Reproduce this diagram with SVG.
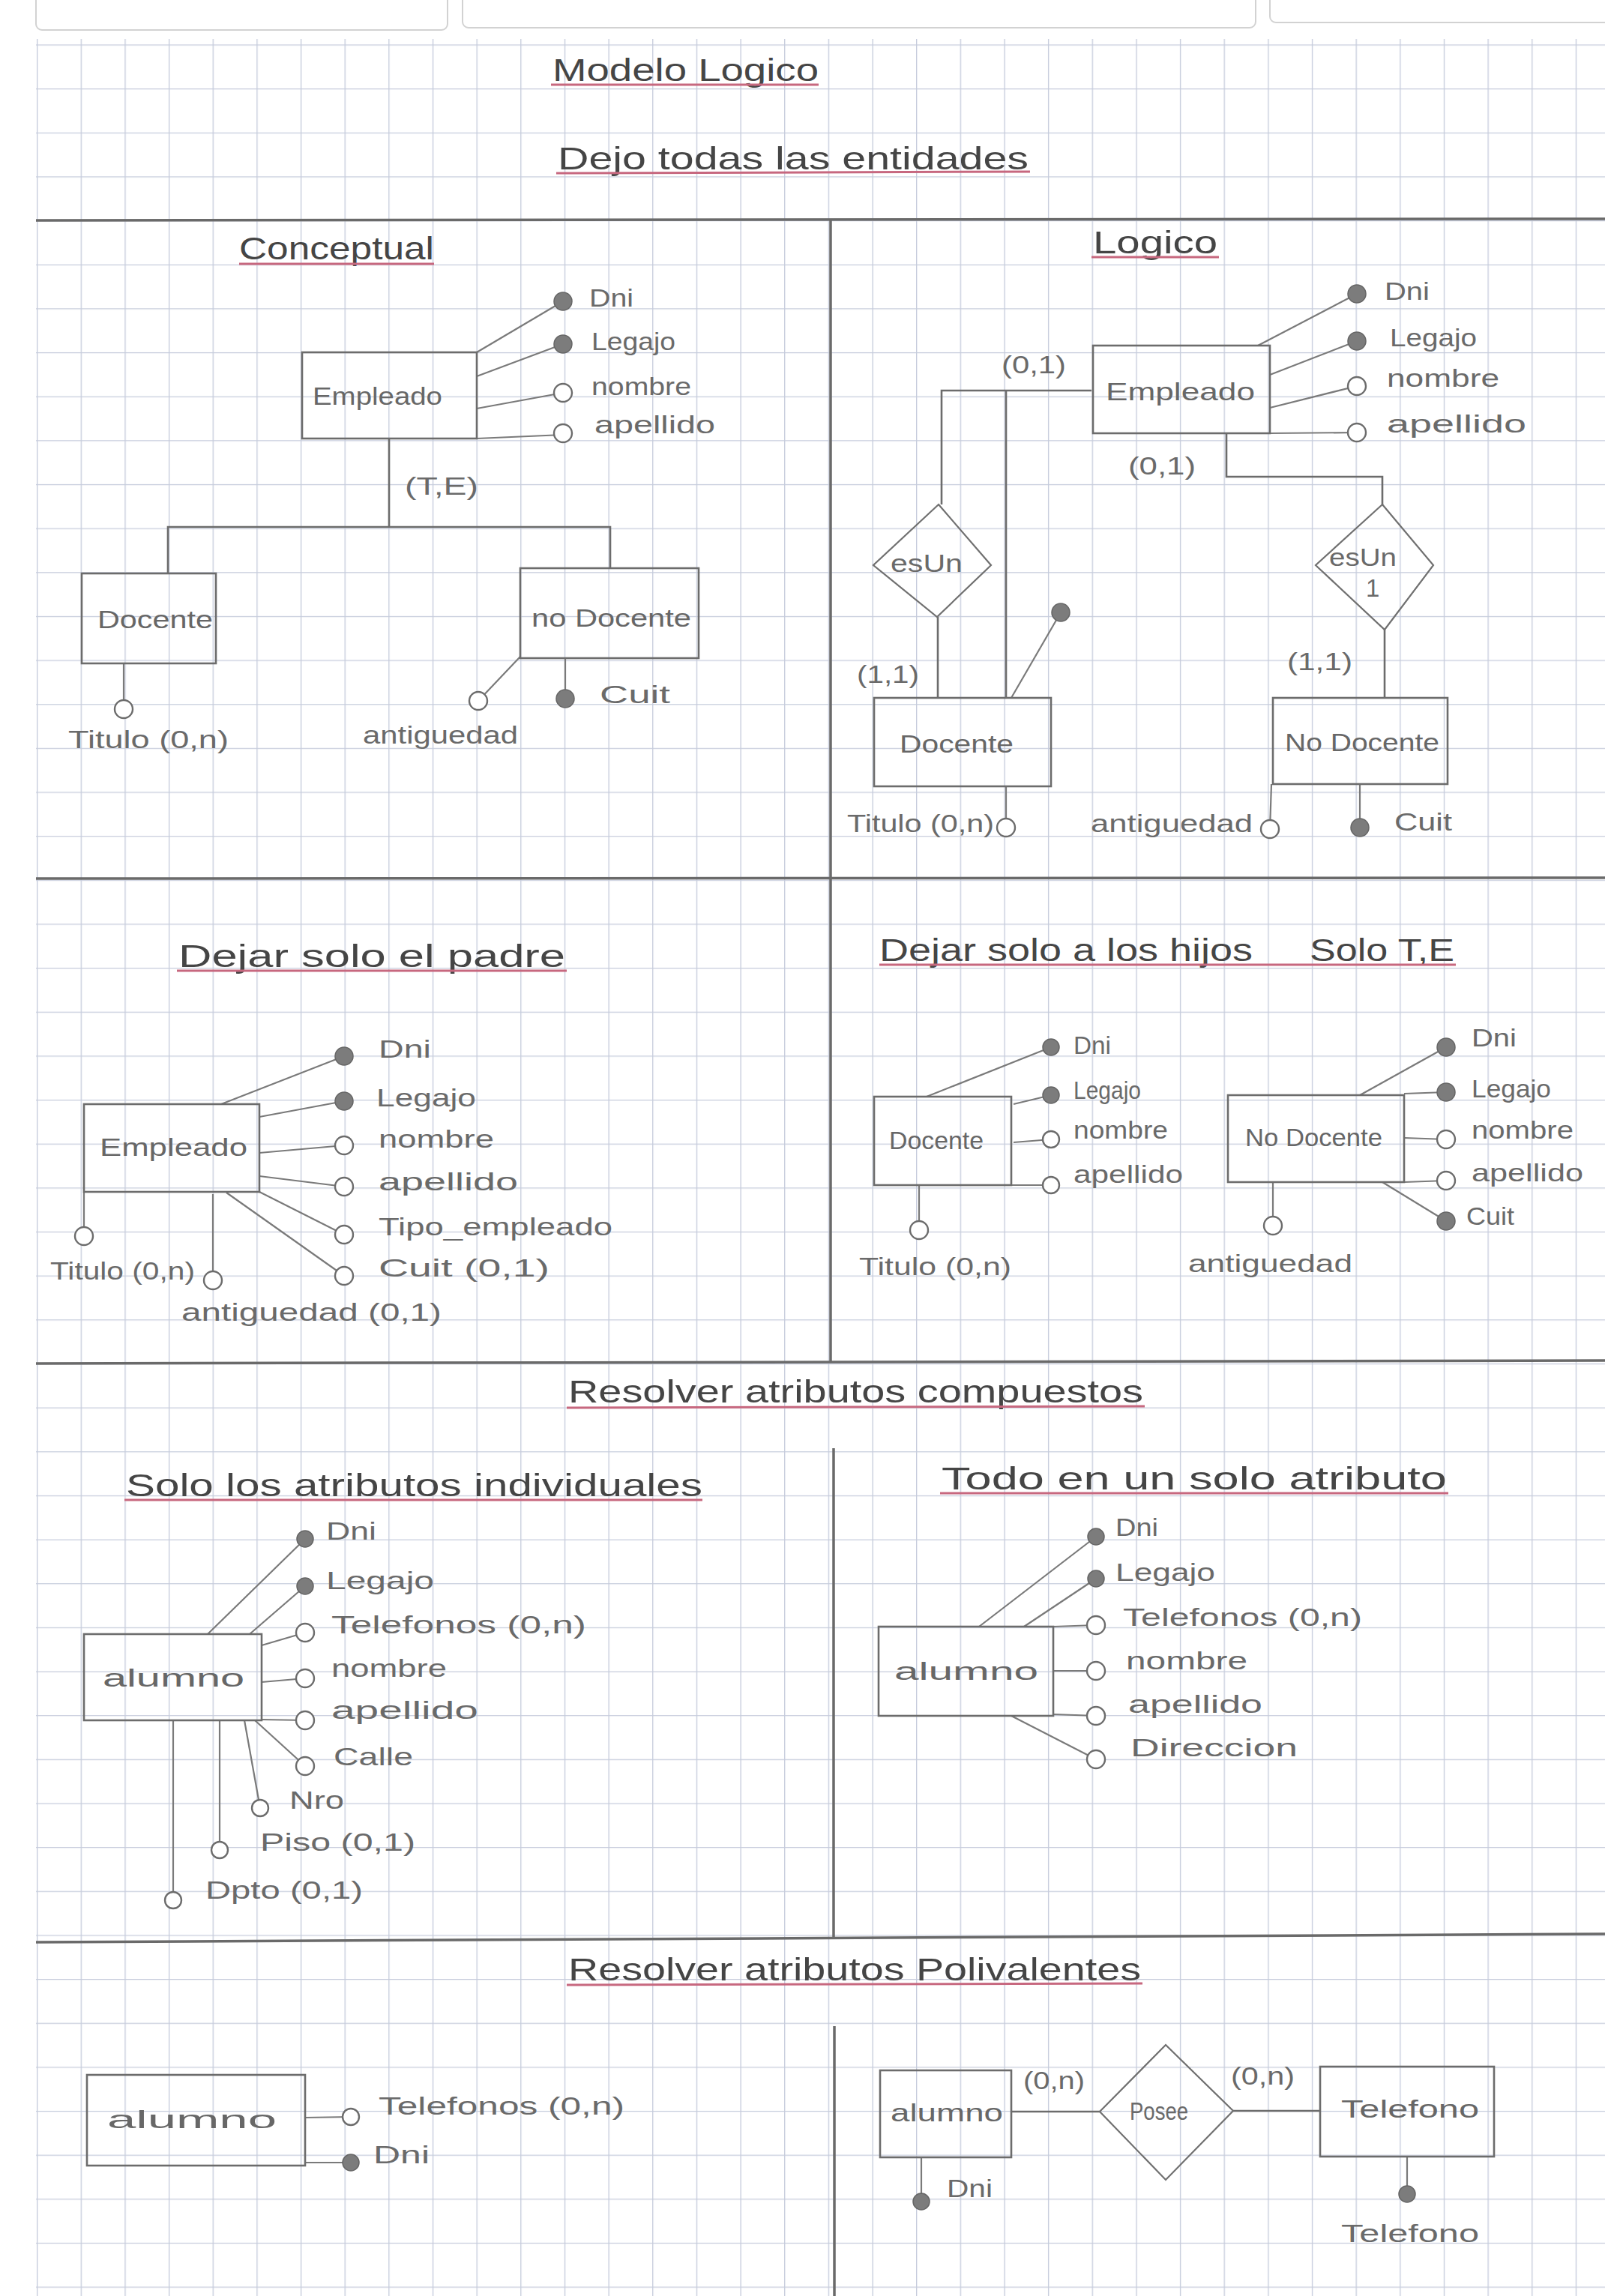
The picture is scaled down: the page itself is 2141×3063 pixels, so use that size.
<svg xmlns="http://www.w3.org/2000/svg" width="2141" height="3063" viewBox="0 0 2141 3063">
<defs>
<pattern id="grid" patternUnits="userSpaceOnUse" x="49" y="0.75" width="58.65" height="58.65">
<path d="M0 0.5 H58.65 M0.5 0 V58.65" fill="none" stroke="#c6ccdc" stroke-width="1.7"/>
</pattern>
</defs>
<style>
.sec{stroke:#6a6a6a;stroke-width:3.5;fill:none}
.hdr{fill:none;stroke:#d2d2d2;stroke-width:2}
.box{fill:none;stroke:#6c6c6c;stroke-width:2.6}
.ln{stroke:#7a7a7a;stroke-width:2.2;fill:none}
.rel{fill:none;stroke:#707070;stroke-width:2.2}
.open{fill:#ffffff;stroke:#6c6c6c;stroke-width:2.4}
.key{fill:#7c7c7c;stroke:#666;stroke-width:1.5}
.t{font-family:"Liberation Sans",Arial,sans-serif;font-size:33px;fill:#6a6a6a}
.e{font-family:"Liberation Sans",Arial,sans-serif;font-size:34px;fill:#676767}
.ti{font-family:"Liberation Sans",Arial,sans-serif;font-size:42px;fill:#454545}
.ul{stroke:#c7687f;stroke-width:3}
</style>
<rect x="0" y="0" width="2141" height="3063" fill="#ffffff"/>
<rect x="48" y="52" width="2093" height="3011" fill="url(#grid)"/>
<g id="page-header">
<rect class="hdr" x="48" y="-20" width="549" height="60" rx="8"/>
<rect class="hdr" x="617" y="-20" width="1058" height="57" rx="8"/>
<rect class="hdr" x="1694" y="-20" width="480" height="50" rx="8"/>
</g>
<g id="sections">
<line class="sec" x1="48" y1="294" x2="2141" y2="292"/>
<line class="sec" x1="1108" y1="294" x2="1108" y2="1817"/>
<line class="sec" x1="48" y1="1172" x2="2141" y2="1171"/>
<line class="sec" x1="48" y1="1819" x2="2141" y2="1815"/>
<line class="sec" x1="1112" y1="1932" x2="1112" y2="2584"/>
<line class="sec" x1="48" y1="2591" x2="2141" y2="2580"/>
<line class="sec" x1="1113" y1="2703" x2="1113" y2="3063"/>
</g>
<g id="titles">
<text class="ti" x="737" y="108" textLength="355" lengthAdjust="spacingAndGlyphs" font-size="46">Modelo Logico</text>
<line class="ul" x1="735" y1="113" x2="1092" y2="113"/>
<text class="ti" x="744" y="226" textLength="628" lengthAdjust="spacingAndGlyphs" font-size="46">Dejo todas las entidades</text>
<line class="ul" x1="742" y1="231" x2="1374" y2="229"/>
<text class="ti" x="319" y="346" textLength="260" lengthAdjust="spacingAndGlyphs">Conceptual</text>
<line class="ul" x1="319" y1="352" x2="579" y2="352"/>
<text class="ti" x="1458" y="338" textLength="166" lengthAdjust="spacingAndGlyphs">Logico</text>
<line class="ul" x1="1456" y1="343" x2="1626" y2="343"/>
<text class="ti" x="238" y="1290" textLength="516" lengthAdjust="spacingAndGlyphs">Dejar solo el padre</text>
<line class="ul" x1="236" y1="1295" x2="756" y2="1295"/>
<text class="ti" x="1173" y="1282" textLength="498" lengthAdjust="spacingAndGlyphs">Dejar solo a los hijos</text>
<text class="ti" x="1747" y="1282" textLength="193" lengthAdjust="spacingAndGlyphs">Solo T,E</text>
<line class="ul" x1="1173" y1="1287" x2="1942" y2="1287"/>
<text class="ti" x="758" y="1871" textLength="767" lengthAdjust="spacingAndGlyphs">Resolver atributos compuestos</text>
<line class="ul" x1="756" y1="1878" x2="1527" y2="1876"/>
<text class="ti" x="168" y="1996" textLength="769" lengthAdjust="spacingAndGlyphs">Solo los atributos individuales</text>
<line class="ul" x1="166" y1="2001" x2="937" y2="2001"/>
<text class="ti" x="1256" y="1987" textLength="674" lengthAdjust="spacingAndGlyphs">Todo en un solo atributo</text>
<line class="ul" x1="1254" y1="1992" x2="1932" y2="1992"/>
<text class="ti" x="758" y="2642" textLength="764" lengthAdjust="spacingAndGlyphs">Resolver atributos Polivalentes</text>
<line class="ul" x1="756" y1="2648" x2="1524" y2="2646"/>
</g>
<g id="connectors">
<line class="ln" x1="636" y1="470" x2="751" y2="402"/>
<line class="ln" x1="636" y1="502" x2="751" y2="459"/>
<line class="ln" x1="636" y1="545" x2="751" y2="524"/>
<line class="ln" x1="636" y1="585" x2="751" y2="580"/>
<polyline class="box" points="519,586 519,703"/>
<polyline class="box" points="224,765 224,703 814,703 814,758"/>
<line class="ln" x1="165" y1="885" x2="165" y2="942"/>
<line class="ln" x1="694" y1="876" x2="638" y2="935"/>
<line class="ln" x1="754" y1="878" x2="754" y2="930"/>
<line class="ln" x1="1678" y1="461" x2="1810" y2="392"/>
<line class="ln" x1="1694" y1="500" x2="1810" y2="455"/>
<line class="ln" x1="1694" y1="544" x2="1810" y2="515"/>
<line class="ln" x1="1694" y1="578" x2="1810" y2="577"/>
<polyline class="box" points="1456,521 1256,521 1256,673"/>
<line class="box" x1="1251" y1="823" x2="1251" y2="931"/>
<line class="box" x1="1342" y1="522" x2="1342" y2="931"/>
<line class="ln" x1="1349" y1="931" x2="1415" y2="817"/>
<line class="ln" x1="1342" y1="1049" x2="1342" y2="1104"/>
<polyline class="box" points="1636,578 1636,636 1844,636 1844,673"/>
<line class="box" x1="1847" y1="840" x2="1847" y2="931"/>
<line class="ln" x1="1696" y1="1046" x2="1694" y2="1106"/>
<line class="ln" x1="1814" y1="1046" x2="1814" y2="1104"/>
<line class="ln" x1="295" y1="1473" x2="459" y2="1409"/>
<line class="ln" x1="346" y1="1490" x2="459" y2="1469"/>
<line class="ln" x1="346" y1="1538" x2="459" y2="1528"/>
<line class="ln" x1="346" y1="1569" x2="459" y2="1583"/>
<line class="ln" x1="346" y1="1590" x2="459" y2="1647"/>
<line class="ln" x1="302" y1="1591" x2="459" y2="1702"/>
<line class="ln" x1="112" y1="1590" x2="112" y2="1649"/>
<line class="ln" x1="284" y1="1593" x2="284" y2="1708"/>
<line class="ln" x1="1236" y1="1463" x2="1402" y2="1397"/>
<line class="ln" x1="1352" y1="1473" x2="1402" y2="1461"/>
<line class="ln" x1="1352" y1="1524" x2="1402" y2="1520"/>
<line class="ln" x1="1349" y1="1581" x2="1402" y2="1581"/>
<line class="ln" x1="1226" y1="1581" x2="1226" y2="1641"/>
<line class="ln" x1="1814" y1="1461" x2="1929" y2="1397"/>
<line class="ln" x1="1873" y1="1459" x2="1929" y2="1457"/>
<line class="ln" x1="1873" y1="1518" x2="1929" y2="1520"/>
<line class="ln" x1="1873" y1="1577" x2="1929" y2="1575"/>
<line class="ln" x1="1844" y1="1577" x2="1929" y2="1629"/>
<line class="ln" x1="1698" y1="1577" x2="1698" y2="1635"/>
<line class="ln" x1="277" y1="2180" x2="407" y2="2053"/>
<line class="ln" x1="333" y1="2180" x2="407" y2="2116"/>
<line class="ln" x1="349" y1="2195" x2="407" y2="2178"/>
<line class="ln" x1="349" y1="2244" x2="407" y2="2239"/>
<line class="ln" x1="349" y1="2294" x2="407" y2="2295"/>
<line class="ln" x1="340" y1="2295" x2="407" y2="2356"/>
<line class="ln" x1="326" y1="2295" x2="347" y2="2412"/>
<line class="ln" x1="293" y1="2295" x2="293" y2="2468"/>
<line class="ln" x1="231" y1="2295" x2="231" y2="2535"/>
<line class="ln" x1="1306" y1="2170" x2="1462" y2="2050"/>
<line class="ln" x1="1366" y1="2170" x2="1462" y2="2106"/>
<line class="ln" x1="1405" y1="2170" x2="1462" y2="2168"/>
<line class="ln" x1="1405" y1="2229" x2="1462" y2="2229"/>
<line class="ln" x1="1405" y1="2287" x2="1462" y2="2289"/>
<line class="ln" x1="1349" y1="2289" x2="1462" y2="2347"/>
<line class="ln" x1="407" y1="2825" x2="468" y2="2824"/>
<line class="ln" x1="407" y1="2885" x2="468" y2="2885"/>
<line class="box" x1="1349" y1="2817" x2="1467" y2="2817"/>
<line class="box" x1="1645" y1="2816" x2="1761" y2="2816"/>
<line class="ln" x1="1229" y1="2878" x2="1229" y2="2937"/>
<line class="ln" x1="1877" y1="2877" x2="1877" y2="2927"/>
</g>
<g id="c-empleado"><rect class="box" x="403" y="470" width="233" height="115"/><text class="e" x="417" y="540" textLength="173" lengthAdjust="spacingAndGlyphs">Empleado</text></g>
<g id="c-dni"><circle class="key" cx="751" cy="402" r="12"/><text class="t" x="786" y="409" textLength="59" lengthAdjust="spacingAndGlyphs">Dni</text></g>
<g id="c-legajo"><circle class="key" cx="751" cy="459" r="12"/><text class="t" x="789" y="467" textLength="112" lengthAdjust="spacingAndGlyphs">Legajo</text></g>
<g id="c-nombre"><circle class="open" cx="751" cy="524" r="12"/><text class="t" x="789" y="527" textLength="133" lengthAdjust="spacingAndGlyphs">nombre</text></g>
<g id="c-apellido"><circle class="open" cx="751" cy="578" r="12"/><text class="t" x="793" y="578" textLength="161" lengthAdjust="spacingAndGlyphs">apellido</text></g>
<g id="c-te"><text class="t" x="540" y="660" textLength="98" lengthAdjust="spacingAndGlyphs">(T,E)</text></g>
<g id="c-docente"><rect class="box" x="109" y="765" width="179" height="120"/><text class="e" x="130" y="838" textLength="154" lengthAdjust="spacingAndGlyphs">Docente</text></g>
<g id="c-nodocente"><rect class="box" x="694" y="758" width="238" height="120"/><text class="e" x="709" y="836" textLength="213" lengthAdjust="spacingAndGlyphs">no Docente</text></g>
<g id="c-titulo"><circle class="open" cx="165" cy="946" r="12"/><text class="t" x="91" y="998" textLength="214" lengthAdjust="spacingAndGlyphs">Titulo (0,n)</text></g>
<g id="c-antiguedad"><circle class="open" cx="638" cy="935" r="12"/><text class="t" x="484" y="992" textLength="207" lengthAdjust="spacingAndGlyphs">antiguedad</text></g>
<g id="c-cuit"><circle class="key" cx="754" cy="932" r="12"/><text class="t" x="800" y="938" textLength="94" lengthAdjust="spacingAndGlyphs">Cuit</text></g>
<g id="l-empleado"><rect class="box" x="1458" y="461" width="236" height="117"/><text class="e" x="1475" y="534" textLength="199" lengthAdjust="spacingAndGlyphs">Empleado</text></g>
<g id="l-dni"><circle class="key" cx="1810" cy="392" r="12"/><text class="t" x="1847" y="400" textLength="60" lengthAdjust="spacingAndGlyphs">Dni</text></g>
<g id="l-legajo"><circle class="key" cx="1810" cy="455" r="12"/><text class="t" x="1854" y="462" textLength="116" lengthAdjust="spacingAndGlyphs">Legajo</text></g>
<g id="l-nombre"><circle class="open" cx="1810" cy="515" r="12"/><text class="t" x="1850" y="516" textLength="150" lengthAdjust="spacingAndGlyphs">nombre</text></g>
<g id="l-apellido"><circle class="open" cx="1810" cy="577" r="12"/><text class="t" x="1850" y="577" textLength="186" lengthAdjust="spacingAndGlyphs">apellido</text></g>
<g id="l-card1"><text class="t" x="1336" y="498" textLength="86" lengthAdjust="spacingAndGlyphs">(0,1)</text></g>
<g id="l-card2"><text class="t" x="1505" y="633" textLength="90" lengthAdjust="spacingAndGlyphs">(0,1)</text></g>
<g id="l-esun"><polygon class="rel" points="1252,673 1322,754 1250,823 1165,754"/><text class="t" x="1188" y="763" textLength="96" lengthAdjust="spacingAndGlyphs">esUn</text></g>
<g id="l-esun1"><polygon class="rel" points="1844,673 1912,754 1847,840 1755,754"/><text class="t" x="1773" y="755" textLength="90" lengthAdjust="spacingAndGlyphs">esUn</text><text class="t" x="1822" y="796">1</text></g>
<g id="l-card3"><text class="t" x="1143" y="911" textLength="83" lengthAdjust="spacingAndGlyphs">(1,1)</text></g>
<g id="l-card4"><text class="t" x="1717" y="894" textLength="87" lengthAdjust="spacingAndGlyphs">(1,1)</text></g>
<g id="l-docente-key"><circle class="key" cx="1415" cy="817" r="12"/></g>
<g id="l-docente"><rect class="box" x="1166" y="931" width="236" height="118"/><text class="e" x="1200" y="1004" textLength="152" lengthAdjust="spacingAndGlyphs">Docente</text></g>
<g id="l-nodocente"><rect class="box" x="1698" y="931" width="233" height="115"/><text class="e" x="1714" y="1002" textLength="206" lengthAdjust="spacingAndGlyphs">No Docente</text></g>
<g id="l-titulo"><circle class="open" cx="1342" cy="1104" r="12"/><text class="t" x="1130" y="1110" textLength="196" lengthAdjust="spacingAndGlyphs">Titulo (0,n)</text></g>
<g id="l-antiguedad"><circle class="open" cx="1694" cy="1106" r="12"/><text class="t" x="1455" y="1110" textLength="216" lengthAdjust="spacingAndGlyphs">antiguedad</text></g>
<g id="l-cuit"><circle class="key" cx="1814" cy="1104" r="12"/><text class="t" x="1860" y="1108" textLength="77" lengthAdjust="spacingAndGlyphs">Cuit</text></g>
<g id="p-empleado"><rect class="box" x="112" y="1473" width="234" height="117"/><text class="e" x="133" y="1542" textLength="197" lengthAdjust="spacingAndGlyphs">Empleado</text></g>
<g id="p-dni"><circle class="key" cx="459" cy="1409" r="12"/><text class="t" x="505" y="1411" textLength="70" lengthAdjust="spacingAndGlyphs">Dni</text></g>
<g id="p-legajo"><circle class="key" cx="459" cy="1469" r="12"/><text class="t" x="502" y="1476" textLength="133" lengthAdjust="spacingAndGlyphs">Legajo</text></g>
<g id="p-nombre"><circle class="open" cx="459" cy="1528" r="12"/><text class="t" x="505" y="1531" textLength="154" lengthAdjust="spacingAndGlyphs">nombre</text></g>
<g id="p-apellido"><circle class="open" cx="459" cy="1583" r="12"/><text class="t" x="505" y="1588" textLength="186" lengthAdjust="spacingAndGlyphs">apellido</text></g>
<g id="p-tipo"><circle class="open" cx="459" cy="1647" r="12"/><text class="t" x="505" y="1648" textLength="312" lengthAdjust="spacingAndGlyphs">Tipo_empleado</text></g>
<g id="p-cuit"><circle class="open" cx="459" cy="1702" r="12"/><text class="t" x="505" y="1703" textLength="228" lengthAdjust="spacingAndGlyphs">Cuit (0,1)</text></g>
<g id="p-titulo"><circle class="open" cx="112" cy="1649" r="12"/><text class="t" x="67" y="1707" textLength="193" lengthAdjust="spacingAndGlyphs">Titulo (0,n)</text></g>
<g id="p-antiguedad"><circle class="open" cx="284" cy="1708" r="12"/><text class="t" x="242" y="1762" textLength="347" lengthAdjust="spacingAndGlyphs">antiguedad (0,1)</text></g>
<g id="h-docente"><rect class="box" x="1166" y="1463" width="183" height="118"/><text class="e" x="1186" y="1533" textLength="126" lengthAdjust="spacingAndGlyphs">Docente</text></g>
<g id="h-d-dni"><circle class="key" cx="1402" cy="1397" r="11"/><text class="t" x="1432" y="1406" textLength="50" lengthAdjust="spacingAndGlyphs">Dni</text></g>
<g id="h-d-legajo"><circle class="key" cx="1402" cy="1461" r="11"/><text class="t" x="1432" y="1466" textLength="90" lengthAdjust="spacingAndGlyphs">Legajo</text></g>
<g id="h-d-nombre"><circle class="open" cx="1402" cy="1520" r="11"/><text class="t" x="1432" y="1519" textLength="126" lengthAdjust="spacingAndGlyphs">nombre</text></g>
<g id="h-d-apellido"><circle class="open" cx="1402" cy="1581" r="11"/><text class="t" x="1432" y="1578" textLength="146" lengthAdjust="spacingAndGlyphs">apellido</text></g>
<g id="h-d-titulo"><circle class="open" cx="1226" cy="1641" r="12"/><text class="t" x="1146" y="1701" textLength="203" lengthAdjust="spacingAndGlyphs">Titulo (0,n)</text></g>
<g id="h-nodocente"><rect class="box" x="1638" y="1461" width="235" height="116"/><text class="e" x="1661" y="1529" textLength="183" lengthAdjust="spacingAndGlyphs">No Docente</text></g>
<g id="h-n-dni"><circle class="key" cx="1929" cy="1397" r="12"/><text class="t" x="1963" y="1396" textLength="60" lengthAdjust="spacingAndGlyphs">Dni</text></g>
<g id="h-n-legajo"><circle class="key" cx="1929" cy="1457" r="12"/><text class="t" x="1963" y="1464" textLength="106" lengthAdjust="spacingAndGlyphs">Legajo</text></g>
<g id="h-n-nombre"><circle class="open" cx="1929" cy="1520" r="12"/><text class="t" x="1963" y="1519" textLength="136" lengthAdjust="spacingAndGlyphs">nombre</text></g>
<g id="h-n-apellido"><circle class="open" cx="1929" cy="1575" r="12"/><text class="t" x="1963" y="1576" textLength="149" lengthAdjust="spacingAndGlyphs">apellido</text></g>
<g id="h-n-cuit"><circle class="key" cx="1929" cy="1629" r="12"/><text class="t" x="1956" y="1634" textLength="64" lengthAdjust="spacingAndGlyphs">Cuit</text></g>
<g id="h-n-antiguedad"><circle class="open" cx="1698" cy="1635" r="12"/><text class="t" x="1585" y="1697" textLength="219" lengthAdjust="spacingAndGlyphs">antiguedad</text></g>
<g id="i-alumno"><rect class="box" x="112" y="2180" width="237" height="115"/><text class="e" x="137" y="2250" textLength="189" lengthAdjust="spacingAndGlyphs">alumno</text></g>
<g id="i-dni"><circle class="key" cx="407" cy="2053" r="11"/><text class="t" x="435" y="2054" textLength="67" lengthAdjust="spacingAndGlyphs">Dni</text></g>
<g id="i-legajo"><circle class="key" cx="407" cy="2116" r="11"/><text class="t" x="435" y="2120" textLength="144" lengthAdjust="spacingAndGlyphs">Legajo</text></g>
<g id="i-telefonos"><circle class="open" cx="407" cy="2178" r="12"/><text class="t" x="442" y="2179" textLength="340" lengthAdjust="spacingAndGlyphs">Telefonos (0,n)</text></g>
<g id="i-nombre"><circle class="open" cx="407" cy="2239" r="12"/><text class="t" x="442" y="2237" textLength="154" lengthAdjust="spacingAndGlyphs">nombre</text></g>
<g id="i-apellido"><circle class="open" cx="407" cy="2295" r="12"/><text class="t" x="442" y="2293" textLength="196" lengthAdjust="spacingAndGlyphs">apellido</text></g>
<g id="i-calle"><circle class="open" cx="407" cy="2356" r="12"/><text class="t" x="445" y="2355" textLength="106" lengthAdjust="spacingAndGlyphs">Calle</text></g>
<g id="i-nro"><circle class="open" cx="347" cy="2412" r="11"/><text class="t" x="386" y="2413" textLength="73" lengthAdjust="spacingAndGlyphs">Nro</text></g>
<g id="i-piso"><circle class="open" cx="293" cy="2468" r="11"/><text class="t" x="347" y="2469" textLength="207" lengthAdjust="spacingAndGlyphs">Piso (0,1)</text></g>
<g id="i-dpto"><circle class="open" cx="231" cy="2535" r="11"/><text class="t" x="274" y="2533" textLength="210" lengthAdjust="spacingAndGlyphs">Dpto (0,1)</text></g>
<g id="s-alumno"><rect class="box" x="1172" y="2170" width="233" height="119"/><text class="e" x="1193" y="2241" textLength="192" lengthAdjust="spacingAndGlyphs">alumno</text></g>
<g id="s-dni"><circle class="key" cx="1462" cy="2050" r="11"/><text class="t" x="1488" y="2049" textLength="57" lengthAdjust="spacingAndGlyphs">Dni</text></g>
<g id="s-legajo"><circle class="key" cx="1462" cy="2106" r="11"/><text class="t" x="1488" y="2109" textLength="133" lengthAdjust="spacingAndGlyphs">Legajo</text></g>
<g id="s-telefonos"><circle class="open" cx="1462" cy="2168" r="12"/><text class="t" x="1498" y="2169" textLength="319" lengthAdjust="spacingAndGlyphs">Telefonos (0,n)</text></g>
<g id="s-nombre"><circle class="open" cx="1462" cy="2229" r="12"/><text class="t" x="1502" y="2227" textLength="162" lengthAdjust="spacingAndGlyphs">nombre</text></g>
<g id="s-apellido"><circle class="open" cx="1462" cy="2289" r="12"/><text class="t" x="1505" y="2285" textLength="179" lengthAdjust="spacingAndGlyphs">apellido</text></g>
<g id="s-direccion"><circle class="open" cx="1462" cy="2347" r="12"/><text class="t" x="1508" y="2343" textLength="223" lengthAdjust="spacingAndGlyphs">Direccion</text></g>
<g id="v-alumno"><rect class="box" x="116" y="2768" width="291" height="121"/><text class="e" x="143" y="2839" textLength="226" lengthAdjust="spacingAndGlyphs">alumno</text></g>
<g id="v-telefonos"><circle class="open" cx="468" cy="2824" r="11"/><text class="t" x="505" y="2821" textLength="328" lengthAdjust="spacingAndGlyphs">Telefonos (0,n)</text></g>
<g id="v-dni"><circle class="key" cx="468" cy="2885" r="11"/><text class="t" x="498" y="2886" textLength="75" lengthAdjust="spacingAndGlyphs">Dni</text></g>
<g id="r-alumno"><rect class="box" x="1174" y="2762" width="175" height="116"/><text class="e" x="1188" y="2830" textLength="150" lengthAdjust="spacingAndGlyphs">alumno</text></g>
<g id="r-card1"><text class="t" x="1365" y="2787" textLength="82" lengthAdjust="spacingAndGlyphs">(0,n)</text></g>
<g id="r-posee"><polygon class="rel" points="1555,2728 1645,2816 1555,2908 1467,2817"/><text class="t" x="1507" y="2828" textLength="78" lengthAdjust="spacingAndGlyphs">Posee</text></g>
<g id="r-card2"><text class="t" x="1642" y="2781" textLength="85" lengthAdjust="spacingAndGlyphs">(0,n)</text></g>
<g id="r-telefono"><rect class="box" x="1761" y="2757" width="232" height="120"/><text class="e" x="1789" y="2825" textLength="184" lengthAdjust="spacingAndGlyphs">Telefono</text></g>
<g id="r-dni"><circle class="key" cx="1229" cy="2937" r="11"/><text class="t" x="1263" y="2931" textLength="61" lengthAdjust="spacingAndGlyphs">Dni</text></g>
<g id="r-telefono-attr"><circle class="key" cx="1877" cy="2927" r="11"/><text class="t" x="1789" y="2991" textLength="184" lengthAdjust="spacingAndGlyphs">Telefono</text></g>
</svg>
